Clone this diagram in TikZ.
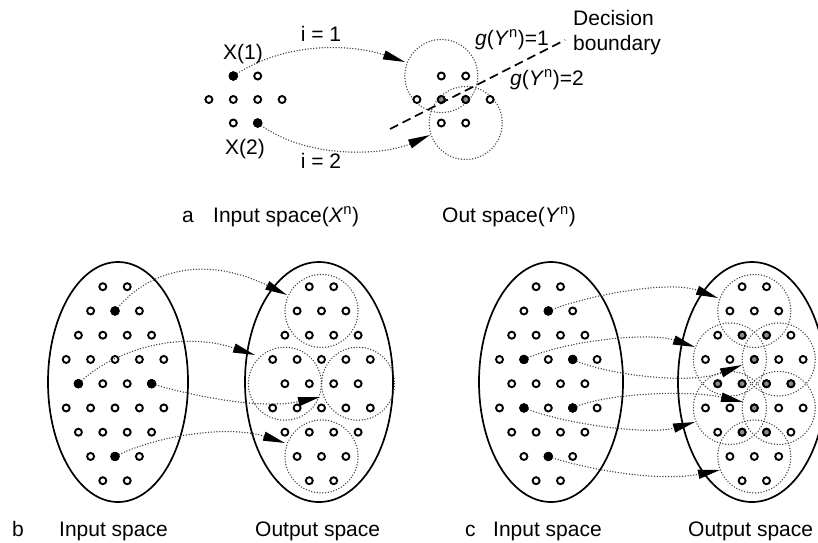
\documentclass[tikz,border=0pt]{standalone}
\usepackage{fontspec}
\setmainfont{Liberation Sans}
\usetikzlibrary{arrows.meta}
\pgfdeclarelayer{bg}
\pgfsetlayers{bg,main}
\newcommand\biglattice[3]{%
  \foreach \r/\hs in {0/{-1,1},1/{-2,0,2},2/{-3,-1,1,3},3/{-4,-2,0,2,4},4/{-3,-1,1,3},5/{-4,-2,0,2,4},6/{-3,-1,1,3},7/{-2,0,2},8/{-1,1}}{%
    \foreach \h in \hs {\node[odot] (#1-\r-\h) at ({#2+12.2*\h},{#3+24.25*(\r-4)}) {};}}}
\newcommand\smalllattice[3]{%
  \foreach \r/\hs in {0/{-1,1},1/{-3,-1,1,3},2/{-1,1}}{%
    \foreach \h in \hs {\node[odot] (#1-\r-\h) at ({#2+12.2*\h},{#3+23.5*(\r-1)}) {};}}}
\begin{document}
\begin{tikzpicture}[x=1pt,y=-1pt,
  odot/.style={circle,draw=black,line width=1.9pt,fill=white,inner sep=0pt,minimum size=7pt},
  fdot/.style={circle,draw=black,line width=0.5pt,fill=black,inner sep=0pt,minimum size=9pt},
  gdot/.style={odot,fill=black!45},
  zone/.style={draw=black!75,line width=1.5pt,line cap=round,dash pattern=on 0pt off 2.8pt},
  map/.style={draw=black!75,line width=1.5pt,line cap=round,dash pattern=on 0pt off 2.8pt,
    -{Triangle[length=22pt,width=9pt,color=black]}},
  spacebox/.style={draw=black,line width=1.7pt},
  bound/.style={draw=black,line width=1.7pt,dash pattern=on 9pt off 5pt},
  lbl/.style={font=\fontsize{21}{25}\selectfont,inner sep=0pt}
]
\useasboundingbox (0,0) rectangle (818,542);
\clip (0,0) rectangle (818,542);

% ---------------- panel a ----------------
\smalllattice{ai}{245.5}{99.5}
\smalllattice{ao}{453.5}{99.5}
\node[fdot] (ai-0--1) at (ai-0--1) {};
\node[fdot] (ai-2-1) at (ai-2-1) {};
\node[gdot] (ao-1--1) at (ao-1--1) {};
\node[gdot] (ao-1-1) at (ao-1-1) {};
\begin{pgfonlayer}{bg}
  \draw[zone] (ao-0--1.center) circle[radius=36.5];
  \draw[zone] (ao-2-1.center) circle[radius=36.5];
\end{pgfonlayer}
\coordinate (ta1) at (405,62);
\coordinate (ta2) at (430,135);
\draw[map] (ai-0--1) .. controls (290,40) and (355,45) .. (ta1);
\draw[map] (ai-2-1) .. controls (310,160) and (385,155) .. (ta2);
\coordinate (dbs) at (390,129);
\coordinate (dbe) at (565,40);
\draw[bound] (dbs) -- (dbe);

\node[lbl,anchor=base] (x1) at (243,59) {X(1)};
\node[lbl,anchor=base] (x2) at (245,154) {X(2)};
\node[lbl,anchor=base] (i1) at (321,41) {i = 1};
\node[lbl,anchor=base] (i2) at (321,168) {i = 2};
\node[lbl,anchor=base west] (g1) at (475,45) {\textit{g}(\textit{Y}\textsuperscript{n})=1};
\node[lbl,anchor=base west] (g2) at (510,85) {\textit{g}(\textit{Y}\textsuperscript{n})=2};
\node[lbl,anchor=base west] (db1) at (573,25) {Decision};
\node[lbl,anchor=base west] (db2) at (573,50) {boundary};
\node[lbl,anchor=base west] (la) at (182,222) {a};
\node[lbl,anchor=base west] (lai) at (213,222) {Input space(\textit{X}\textsuperscript{n})};
\node[lbl,anchor=base west] (lao) at (442,222) {Out space(\textit{Y}\textsuperscript{n})};

% ---------------- panel b ----------------
\draw[spacebox] (118,382) ellipse[x radius=70,y radius=120];
\draw[spacebox] (319,382) ellipse[x radius=74,y radius=120];
\biglattice{bi}{115}{383.7}
\biglattice{bo}{321.5}{383.7}
\node[fdot] (bi-1-0) at (bi-1-0) {};
\node[fdot] (bi-4--3) at (bi-4--3) {};
\node[fdot] (bi-4-3) at (bi-4-3) {};
\node[fdot] (bi-7-0) at (bi-7-0) {};
\begin{pgfonlayer}{bg}
  \foreach \c in {bo-1-0,bo-4--3,bo-4-3,bo-7-0}
    \draw[zone] (\c.center) circle[radius=36.5];
\end{pgfonlayer}
\coordinate (tb1) at (287,295);
\coordinate (tb2) at (255,355);
\coordinate (tb3) at (320,397);
\coordinate (tb4) at (285,443);
\draw[map] (bi-1-0) .. controls (150,270) and (205,255) .. (tb1);
\draw[map] (bi-4--3) .. controls (115,350) and (180,330) .. (tb2);
\draw[map] (bi-4-3) .. controls (190,395) and (260,410) .. (tb3);
\draw[map] (bi-7-0) .. controls (160,435) and (230,425) .. (tb4);

\node[lbl,anchor=base west] (lb) at (12,536) {b};
\node[lbl,anchor=base west] (lbi) at (59,536) {Input space};
\node[lbl,anchor=base west] (lbo) at (255,536) {Output space};

% ---------------- panel c ----------------
\draw[spacebox] (551,382) ellipse[x radius=72,y radius=120];
\draw[spacebox] (752,382) ellipse[x radius=74,y radius=120];
\biglattice{ci}{548.3}{383.7}
\biglattice{co}{754.3}{383.7}
\foreach \c in {ci-1-0,ci-3--2,ci-3-2,ci-5--2,ci-5-2,ci-7-0}
  \node[fdot] (\c) at (\c) {};
\foreach \c in {co-2--1,co-2-1,co-3-0,co-4--3,co-4--1,co-4-1,co-4-3,co-5-0,co-6--1,co-6-1}
  \node[gdot] (\c) at (\c) {};
\begin{pgfonlayer}{bg}
  \foreach \c in {co-1-0,co-3--2,co-3-2,co-5--2,co-5-2,co-7-0}
    \draw[zone] (\c.center) circle[radius=36.5];
\end{pgfonlayer}
\coordinate (tc1) at (718,298);
\coordinate (tc2) at (695,347);
\coordinate (tc3) at (742,365);
\coordinate (tc4) at (743,402);
\coordinate (tc5) at (695,422);
\coordinate (tc6) at (720,470);
\draw[map] (ci-1-0) .. controls (590,295) and (670,280) .. (tc1);
\draw[map] (ci-3--2) .. controls (570,340) and (650,332) .. (tc2);
\draw[map] (ci-3-2) .. controls (610,375) and (690,385) .. (tc3);
\draw[map] (ci-5-2) .. controls (610,393) and (690,390) .. (tc4);
\draw[map] (ci-5--2) .. controls (570,425) and (650,435) .. (tc5);
\draw[map] (ci-7-0) .. controls (590,470) and (660,482) .. (tc6);

\node[lbl,anchor=base west] (lc) at (465,536) {c};
\node[lbl,anchor=base west] (lci) at (493,536) {Input space};
\node[lbl,anchor=base west] (lco) at (688,536) {Output space};
\end{tikzpicture}
\end{document}
